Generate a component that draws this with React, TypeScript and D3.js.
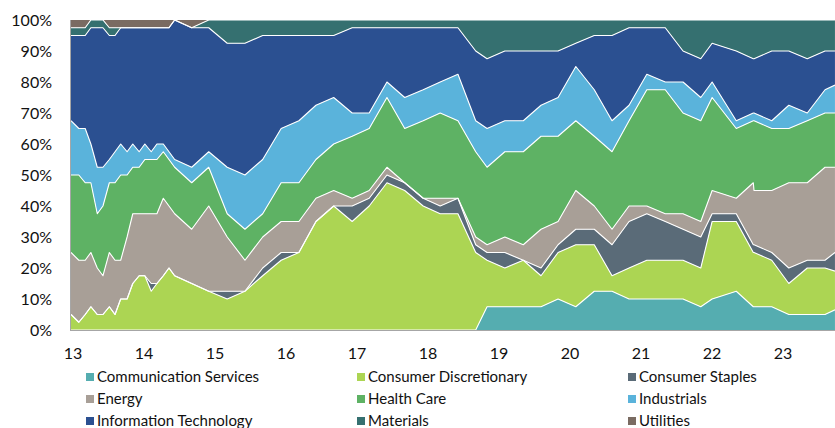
import React from 'react';
import * as d3 from 'd3';

// decimal years (13 = 2013)
const dates = [13.00, 13.11, 13.20, 13.28, 13.37, 13.45, 13.54, 13.62, 13.70, 13.79, 13.87, 13.96, 14.04, 14.13, 14.21, 14.30, 14.38, 14.46, 14.70, 14.94, 15.20, 15.45, 15.70, 15.96, 16.21, 16.45, 16.70, 16.96, 17.20, 17.45, 17.70, 17.96, 18.20, 18.45, 18.70, 18.86, 19.11, 19.37, 19.62, 19.86, 20.11, 20.37, 20.62, 20.86, 21.11, 21.37, 21.62, 21.87, 22.03, 22.37, 22.61, 22.62, 22.87, 23.11, 23.37, 23.62, 23.76];

const commServices = [0, 0, 0, 0, 0, 0, 0, 0, 0, 0, 0, 0, 0, 0, 0, 0, 0, 0, 0, 0, 0, 0, 0, 0, 0, 0, 0, 0, 0, 0, 0, 0, 0, 0, 0, 7.5, 7.5, 7.5, 7.5, 10, 7.5, 12.5, 12.5, 10, 10, 10, 10, 7.5, 10, 12.5, 7.5, 7.5, 7.5, 5, 5, 5, 6.5];
const consDisc = [5, 2.5, 5, 7.5, 5, 5, 7.5, 5, 10, 10, 15, 17.5, 17.5, 12.5, 15, 17.5, 20, 17.5, 15, 12.5, 10, 12.5, 17.5, 22.5, 25, 35, 40, 35, 40, 47.5, 45, 40, 37.5, 37.5, 25, 15, 12.5, 15, 10, 15, 20, 15, 5, 10, 12.5, 12.5, 12.5, 12.5, 25, 22.5, 17.5, 17.5, 15, 10, 15, 15, 12.5];
const consStaples = [0, 0, 0, 0, 0, 0, 0, 0, 0, 0, 0, 0, 0, 2.5, 0, 0, 0, 0, 0, 0, 2.5, 0, 2.5, 2.5, 0, 0, 0, 5, 2.5, 2.5, 2.5, 2.5, 2.5, 5, 2.5, 2.5, 5, 0, 2.5, 2.5, 5, 5, 10, 15, 15, 12.5, 10, 10, 2.5, 2.5, 2.5, 2.5, 2.5, 5, 2.5, 2.5, 6];
const energy = [20, 20, 17.5, 17.5, 15, 12.5, 17.5, 17.5, 12.5, 20, 22.5, 20, 20, 22.5, 22.5, 25, 20, 20, 17.5, 27.5, 17.5, 10, 10, 10, 10, 7.5, 5, 2.5, 2.5, 2.5, 0, 0, 2.5, 0, 2.5, 2.5, 5, 5, 12.5, 7.5, 12.5, 7.5, 5, 5, 2.5, 2.5, 5, 5, 7.5, 5, 20, 17.5, 20, 27.5, 25, 30, 27.5];
const healthCare = [25, 27.5, 25, 22.5, 17.5, 22.5, 22.5, 25, 27.5, 20, 15, 15, 17.5, 17.5, 17.5, 15, 15, 15, 15, 12.5, 7.5, 10, 7.5, 12.5, 12.5, 12.5, 15, 20, 20, 22.5, 17.5, 25, 27.5, 25, 27.5, 25, 27.5, 30, 30, 27.5, 22.5, 22.5, 25, 27.5, 37.5, 40, 32.5, 32.5, 30, 22.5, 20, 22.5, 20, 17.5, 20, 17.5, 17.5];
const industrials = [17.5, 15, 17.5, 12.5, 15, 12.5, 7.5, 10, 10, 7.5, 7.5, 5, 5, 2.5, 5, 2.5, 2.5, 2.5, 5, 5, 15, 17.5, 17.5, 17.5, 20, 17.5, 15, 7.5, 5, 5, 10, 10, 10, 15, 10, 12.5, 10, 10, 10, 12.5, 17.5, 15, 10, 5, 5, 2.5, 10, 7.5, 5, 2.5, 2.5, 2.5, 2.5, 7.5, 2.5, 7.5, 9];
const infoTech = [27.5, 30, 30, 37.5, 45, 45, 40, 37.5, 37.5, 40, 37.5, 40, 37.5, 40, 37.5, 37.5, 40, 45, 45, 40, 40, 42.5, 40, 30, 27.5, 22.5, 20, 27.5, 27.5, 17.5, 22.5, 20, 17.5, 15, 22.5, 22.5, 22.5, 22.5, 17.5, 15, 7.5, 17.5, 27.5, 25, 15, 17.5, 10, 12.5, 12.5, 22.5, 17.5, 17.5, 22.5, 17.5, 17.5, 12.5, 11];
const materials = [2.5, 2.5, 2.5, 2.5, 2.5, 2.5, 2.5, 2.5, 0, 0, 0, 0, 0, 0, 0, 0, 0, 0, 0, 2.5, 7.5, 7.5, 5, 5, 5, 5, 5, 2.5, 2.5, 2.5, 2.5, 2.5, 2.5, 2.5, 10, 12.5, 10, 10, 10, 10, 7.5, 5, 5, 2.5, 2.5, 2.5, 10, 12.5, 7.5, 10, 12.5, 12.5, 10, 10, 12.5, 10, 10];
const utilities = [2.5, 2.5, 2.5, 0, 0, 0, 2.5, 2.5, 2.5, 2.5, 2.5, 2.5, 2.5, 2.5, 2.5, 2.5, 2.5, 0, 2.5, 0, 0, 0, 0, 0, 0, 0, 0, 0, 0, 0, 0, 0, 0, 0, 0, 0, 0, 0, 0, 0, 0, 0, 0, 0, 0, 0, 0, 0, 0, 0, 0, 0, 0, 0, 0, 0, 0];

const sectorNames = ['Communication Services', 'Consumer Discretionary', 'Consumer Staples', 'Energy', 'Health Care', 'Industrials', 'Information Technology', 'Materials', 'Utilities'];
const sectorValues = [commServices, consDisc, consStaples, energy, healthCare, industrials, infoTech, materials, utilities];
const sectorColors = ['#55adb0', '#acd553', '#5a6b78', '#a89f97', '#5eb264', '#5ab3db', '#2b5091', '#357070', '#7a6b62'];

const xTickLabels = ['13', '14', '15', '16', '17', '18', '19', '20', '21', '22', '23'];
const xTickValues = [13, 14, 15, 16, 17, 18, 19, 20, 21, 22, 23];
const yTickValues = [0, 0.1, 0.2, 0.3, 0.4, 0.5, 0.6, 0.7, 0.8, 0.9, 1];
const yTickLabels = ['0%', '10%', '20%', '30%', '40%', '50%', '60%', '70%', '80%', '90%', '100%'];

const FONT = 'Lato, "Open Sans", sans-serif';

export default function App() {
  const W = 835;
  const H = 428;
  const left = 71;
  const right = 835;
  const top = 20;
  const bottom = 330;

  const x = d3.scaleLinear().domain([13, 23]).range([71, 781]);
  const y = d3.scaleLinear().domain([0, 1]).range([bottom, top]);

  const rows = dates.map((d, i) => {
    const r: any = { date: d };
    sectorNames.forEach((n, k) => (r[n] = sectorValues[k][i]));
    return r;
  });

  const layers = d3.stack<any>().keys(sectorNames).offset(d3.stackOffsetExpand)(rows);

  const area = d3
    .area<any>()
    .x((d) => x(d.data.date))
    .y0((d) => y(d[0]))
    .y1((d) => y(d[1]));
  const line = d3
    .line<any>()
    .x((d) => x(d.data.date))
    .y((d) => y(d[1]));

  const legendCols = [86, 357, 628];
  const legendRows = [377, 399, 421];

  return (
    <svg
      width={W}
      height={H}
      style={{ position: 'absolute', left: 0, top: 0, background: '#fff' }}
      xmlns="http://www.w3.org/2000/svg"
    >
      <defs>
        <clipPath id="plotClip">
          <rect x={left} y={top} width={right - left} height={bottom - top} />
        </clipPath>
      </defs>
      <g clipPath="url(#plotClip)">
        {layers.map((layer, i) => (
          <path key={'a' + i} d={area(layer) || ''} fill={sectorColors[i]} />
        ))}
        {layers.slice(0, layers.length - 1).map((layer, i) => (
          <path
            key={'l' + i}
            d={line(layer) || ''}
            fill="none"
            stroke="#ffffff"
            strokeWidth={1.1}
            strokeLinejoin="round"
          />
        ))}
      </g>
      <line x1={70.5} x2={70.5} y1={top} y2={bottom} stroke="#a6a6a6" strokeWidth={1} />
      <line x1={70} x2={right} y1={bottom + 0.5} y2={bottom + 0.5} stroke="#a6a6a6" strokeWidth={1} />
      {yTickValues.map((v, i) => (
        <text
          key={'y' + i}
          x={52}
          y={y(v)}
          dy="0.35em"
          textAnchor="end"
          fontFamily={FONT}
          fontSize={16}
          fill="#111"
        >
          {yTickLabels[i]}
        </text>
      ))}
      {xTickValues.map((v, i) => (
        <text
          key={'x' + i}
          x={x(v) + 2}
          y={353}
          dy="0.35em"
          textAnchor="middle"
          fontFamily={FONT}
          fontSize={16}
          fill="#111"
        >
          {xTickLabels[i]}
        </text>
      ))}
      {sectorNames.map((n, i) => {
        const cx = legendCols[i % 3];
        const cy = legendRows[Math.floor(i / 3)];
        return (
          <g key={'lg' + i}>
            <rect x={cx} y={cy - 4} width={8} height={8} fill={sectorColors[i]} />
            <text x={cx + 11} y={cy} dy="0.35em" fontFamily={FONT} fontSize={15} fill="#111">
              {n}
            </text>
          </g>
        );
      })}
    </svg>
  );
}
